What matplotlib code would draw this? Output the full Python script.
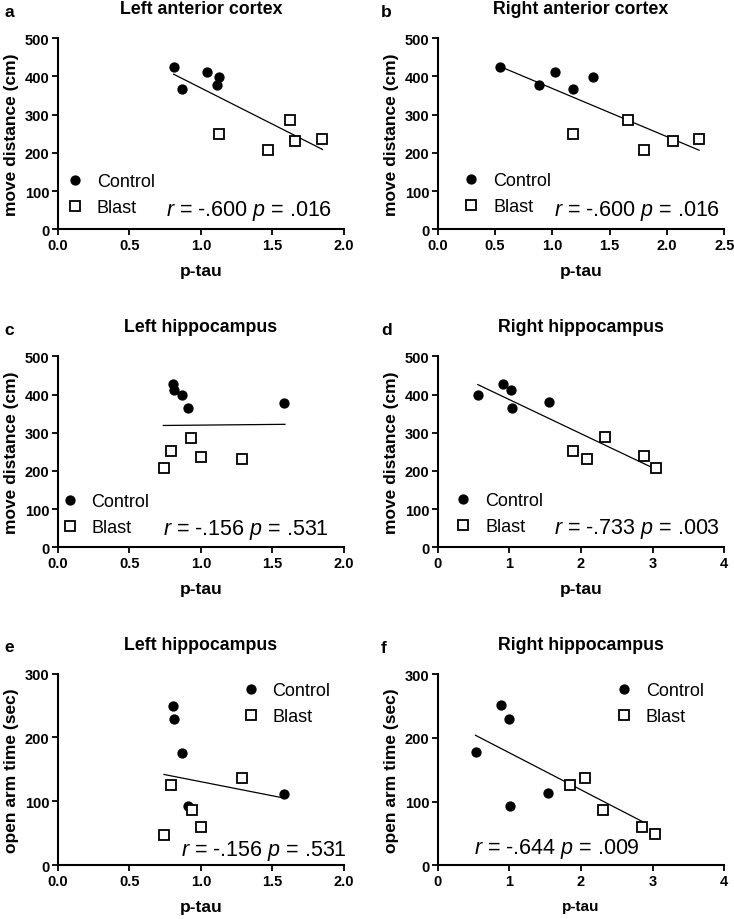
import numpy as np
import matplotlib.pyplot as plt

plt.rcParams['font.family'] = ['Liberation Sans', 'DejaVu Sans']
plt.rcParams['mathtext.fontset'] = 'custom'
plt.rcParams['mathtext.rm'] = 'Liberation Sans'
plt.rcParams['mathtext.it'] = 'Liberation Sans:italic'

# panel data
a_ctrl_x = [0.81, 0.87, 1.045, 1.11, 1.13]
a_ctrl_y = [426, 366, 413, 378, 399]
a_blast_x = [1.13, 1.62, 1.66, 1.47, 1.85]
a_blast_y = [250, 286, 230, 208, 237]
a_fit_x = [0.81, 1.85]
a_fit_y = [406, 209]

b_ctrl_x = [0.545, 0.885, 1.02, 1.18, 1.355]
b_ctrl_y = [426, 379, 412, 366, 399]
b_blast_x = [1.18, 1.657, 1.80, 2.05, 2.28]
b_blast_y = [250, 286, 208, 230, 237]
b_fit_x = [0.545, 2.28]
b_fit_y = [426, 207]

c_ctrl_x = [0.806, 0.81, 0.87, 0.908, 1.58]
c_ctrl_y = [427, 413, 399, 366, 379]
c_blast_x = [0.93, 0.79, 1.0, 1.29, 0.743]
c_blast_y = [287, 251, 237, 230, 208]
c_fit_x = [0.738, 1.588]
c_fit_y = [319, 322]

d_ctrl_x = [0.56, 0.91, 1.02, 1.04, 1.56]
d_ctrl_y = [400, 427, 413, 366, 380]
d_blast_x = [1.89, 2.08, 2.34, 2.88, 3.05]
d_blast_y = [253, 231, 288, 239, 208]
d_fit_x = [0.56, 2.98]
d_fit_y = [426, 210]

e_ctrl_x = [0.806, 0.81, 0.87, 0.908, 1.583]
e_ctrl_y = [249, 228.5, 176, 92, 112]
e_blast_x = [0.794, 1.29, 0.94, 1.0, 0.745]
e_blast_y = [126, 136, 87, 60.5, 48]
e_fit_x = [0.743, 1.583]
e_fit_y = [142, 105]

f_ctrl_x = [0.53, 0.885, 0.99, 1.01, 1.54]
f_ctrl_y = [177.5, 251, 230, 93, 112.6]
f_blast_x = [1.85, 2.05, 2.31, 2.855, 3.03]
f_blast_y = [126, 137, 86, 60, 48.7]
f_fit_x = [0.528, 2.855]
f_fit_y = [204, 68.6]

fig = plt.figure(figsize=(7.34, 9.20), dpi=100)

panels = [
    # letter, title, pos, ctrl, blast, fit, xlim, xticks, xfmt, ylim, yticks, ylabel, stat, stat pos, legend pos
    ('a', 'Left anterior cortex', [0.0786, 0.7497, 0.390, 0.2076],
     (a_ctrl_x, a_ctrl_y), (a_blast_x, a_blast_y), (a_fit_x, a_fit_y),
     (0, 2.0), [0, 0.5, 1.0, 1.5, 2.0], '%.1f', (0, 500), [0, 100, 200, 300, 400, 500],
     'move distance (cm)', ('-.600', '.016'), (0.957, 0.103, 'right'), (0.029, 0.18), 12.5),
    ('b', 'Right anterior cortex', [0.5963, 0.7497, 0.3905, 0.2076],
     (b_ctrl_x, b_ctrl_y), (b_blast_x, b_blast_y), (b_fit_x, b_fit_y),
     (0, 2.5), [0, 0.5, 1.0, 1.5, 2.0, 2.5], '%.1f', (0, 500), [0, 100, 200, 300, 400, 500],
     'move distance (cm)', ('-.600', '.016'), (0.986, 0.103, 'right'), (0.086, 0.188), 12.5),
    ('c', 'Left hippocampus', [0.0786, 0.404, 0.390, 0.2076],
     (c_ctrl_x, c_ctrl_y), (c_blast_x, c_blast_y), (c_fit_x, c_fit_y),
     (0, 2.0), [0, 0.5, 1.0, 1.5, 2.0], '%.1f', (0, 500), [0, 100, 200, 300, 400, 500],
     'move distance (cm)', ('-.156', '.531'), (0.949, 0.096, 'right'), (0.011, 0.172), 12.5),
    ('d', 'Right hippocampus', [0.5963, 0.404, 0.3905, 0.2076],
     (d_ctrl_x, d_ctrl_y), (d_blast_x, d_blast_y), (d_fit_x, d_fit_y),
     (0, 4), [0, 1, 2, 3, 4], '%d', (0, 500), [0, 100, 200, 300, 400, 500],
     'move distance (cm)', ('-.733', '.003'), (0.986, 0.1, 'right'), (0.058, 0.177), 12.5),
    ('e', 'Left hippocampus', [0.0786, 0.0585, 0.390, 0.2083],
     (e_ctrl_x, e_ctrl_y), (e_blast_x, e_blast_y), (e_fit_x, e_fit_y),
     (0, 2.0), [0, 0.5, 1.0, 1.5, 2.0], '%.1f', (0, 300), [0, 100, 200, 300],
     'open arm time (sec)', ('-.156', '.531'), (1.009, 0.08, 'right'), (0.643, 0.842), 12.5),
    ('f', 'Right hippocampus', [0.5963, 0.0585, 0.3905, 0.2076],
     (f_ctrl_x, f_ctrl_y), (f_blast_x, f_blast_y), (f_fit_x, f_fit_y),
     (0, 4), [0, 1, 2, 3, 4], '%d', (0, 300), [0, 100, 200, 300],
     'open arm time (sec)', ('-.644', '.009'), (0.126, 0.092, 'left'), (0.619, 0.846), 11),
]

for (letter, title, pos, ctrl, blast, fit, xlim, xticks, xfmt, ylim, yticks,
     ylabel, stat, spos, lpos, xlab_fs) in panels:
    ax = fig.add_axes(pos)
    ax.plot(fit[0], fit[1], color='black', lw=0.9, zorder=2)
    ax.plot(ctrl[0], ctrl[1], 'o', ms=6.4, color='black', label='Control',
            clip_on=False, zorder=3)
    ax.plot(blast[0], blast[1], 's', ms=6.6, mfc='white', mec='black', mew=1.3,
            label='Blast', clip_on=False, zorder=3)
    ax.set_xlim(*xlim)
    ax.set_ylim(*ylim)
    ax.set_xticks(xticks)
    ax.set_xticklabels([xfmt % t for t in xticks])
    ax.set_yticks(yticks)
    ax.set_yticklabels([str(t) for t in yticks])
    for s in ['top', 'right']:
        ax.spines[s].set_visible(False)
    for s in ['left', 'bottom']:
        ax.spines[s].set_linewidth(1.5)
    ax.tick_params(width=1.3, length=4, labelsize=10.5, pad=2)
    for lab in ax.get_xticklabels() + ax.get_yticklabels():
        lab.set_fontweight('bold')
    ax.set_xlabel('p-tau', fontsize=xlab_fs, fontweight='bold', labelpad=8)
    ax.set_ylabel(ylabel, fontsize=12.5, fontweight='bold', labelpad=4)
    ax.set_title(title, fontsize=12.8, fontweight='bold', pad=18)
    ax.text(spos[0], spos[1], '$r$ = %s $p$ = %s' % stat, transform=ax.transAxes,
            ha=spos[2], va='center', fontsize=15.5)
    ax.legend(loc='center left', bbox_to_anchor=lpos, frameon=False, fontsize=13,
              handlelength=1.0, handletextpad=0.7, labelspacing=0.5,
              borderpad=0, borderaxespad=0)
    dx = 0.072 if pos[0] < 0.5 else 0.077
    fig.text(pos[0] - dx, pos[1] + pos[3] + 0.0245, letter, fontsize=12.5,
             fontweight='bold', va='baseline', ha='left')

plt.savefig('out.png', dpi=100)
